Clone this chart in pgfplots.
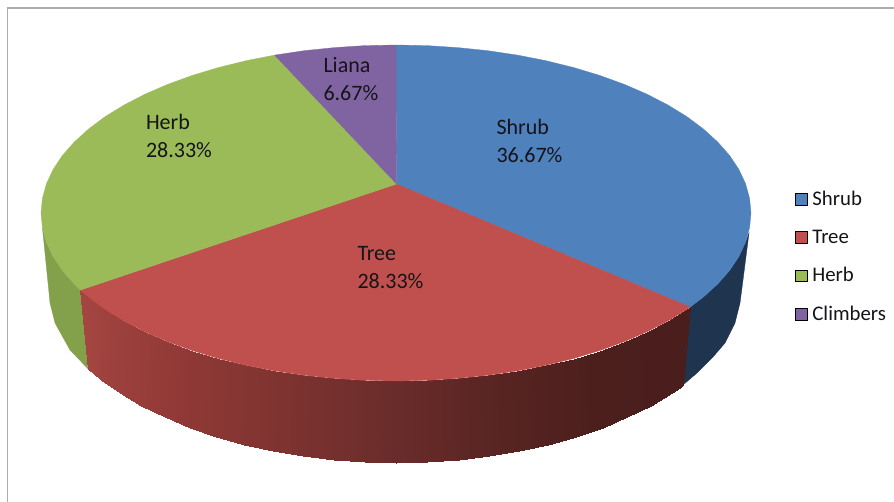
\documentclass[border=0pt]{standalone}
\usepackage{pgfplots}
\usepackage{fontspec}
\setmainfont{Carlito}
\pgfplotsset{compat=1.18}
\definecolor{cBlue}{RGB}{79,129,189}
\definecolor{cRed}{RGB}{192,80,77}
\definecolor{cGreen}{RGB}{155,187,89}
\definecolor{cPurple}{RGB}{128,100,162}
\definecolor{sBlue}{RGB}{31,52,79}
\definecolor{sGreen}{RGB}{131,161,74}
\definecolor{frameC}{RGB}{172,172,172}
\definecolor{txt}{RGB}{20,20,25}
\begin{document}
\begin{tikzpicture}
\begin{axis}[
  scale only axis, width=894bp, height=502bp,
  xmin=0, xmax=894, ymin=0, ymax=502, y dir=reverse,
  hide axis, clip=true,
  colormap={tree}{rgb255=(164,69,65) rgb255=(144,57,54) rgb255=(126,51,48) rgb255=(107,45,43) rgb255=(90,37,35) rgb255=(76,31,29) rgb255=(74,30,29)},
  point meta min=81, point meta max=690,
  legend style={at={(axis cs:795,191)}, anchor=north west, draw=none, fill=none,
    inner sep=0pt, outer sep=0pt, font=\fontsize{20.8bp}{24bp}\selectfont\color{txt},
    row sep=22.8bp, column sep=5bp, nodes={inner sep=0pt, outer sep=0pt}},
  legend cell align=left,
]
\path (axis cs:0,0) rectangle (axis cs:894,502);
% frame
\addplot[frameC, line width=1.3bp, forget plot] coordinates {(7.5,502) (7.5,8) (894,8)};
% side of shrub
\addplot[fill=sBlue, draw=sBlue, line width=0.3pt, forget plot] coordinates {
(690.3,307) (703.4,297) (717.7,284) (729.6,270.5) (738.9,256.5) (745.6,242.2) (749,233)
(743,280) (740,303) (735,323) (725,343) (713,357) (697,373) (683,385)} -- cycle;
% side of herb
\addplot[fill=sGreen, draw=sGreen, line width=0.3pt, forget plot] coordinates {
(80.5,290) (74.3,284) (62.4,270.5) (53.1,256.5) (46.4,242.2) (42.4,227.6)
(47,273) (50,303) (55,323) (70,350) (88,368.8)} -- cycle;
% side of tree (dark to the right)
\addplot[surf, shader=interp, mesh/rows=2, point meta=explicit, forget plot] table[x=x, y=y, meta=c] {
x y c
80.5 290 81
88.6 297 88
105.2 309.4 105
124.1 321 124
145 331.8 145
167.8 341.7 168
192.4 350.6 192
218.5 358.5 218
246 365.3 246
274.6 370.9 275
304.1 375.3 304
334.4 378.4 334
365 380.4 365
396 381 396
427 380.4 427
457.6 378.4 458
487.9 375.3 488
517.4 370.9 517
546 365.3 546
573.5 358.5 573
599.6 350.6 600
624.2 341.7 624
647 331.8 647
667.9 321 668
686.8 309.4 687
690.3 307 690
88 368.8 81
94.1 374.2 88
101.1 379.9 105
120.2 393.3 124
141.4 405.9 145
164.6 417.4 168
189.5 427.7 192
216 436.9 218
243.9 444.7 246
272.9 451.2 275
302.8 456.4 304
333.5 460 334
364.6 462.3 365
396 463 396
427.4 462.3 427
458.5 460 458
489.2 456.4 488
519.1 451.2 517
548.1 444.7 546
576 436.9 573
602.5 427.7 600
627.4 417.4 624
650.6 405.9 647
671.8 393.3 668
679.7 388 687
683 385 690
};
% top: shrub
\addplot[fill=cBlue, draw=cBlue, line width=0.3pt, forget plot] coordinates {
(396.5,184) (396,45) (427,45.6) (457.6,47.6) (487.9,50.7) (517.4,55.1) (546,60.7) (573.5,67.5)
(599.6,75.4) (624.2,84.3) (647,94.2) (667.9,105) (686.8,116.6) (703.4,129) (717.7,142)
(729.6,155.5) (738.9,169.5) (745.6,183.8) (749.6,198.4) (751,213) (749.6,227.6) (745.6,242.2)
(738.9,256.5) (729.6,270.5) (717.7,284) (703.4,297) (690.3,307)} -- cycle;
% top: tree
\addplot[fill=cRed, draw=cRed, line width=0.3pt, forget plot] coordinates {
(396.5,184) (690.3,307) (686.8,309.4) (667.9,321) (647,331.8) (624.2,341.7) (599.6,350.6)
(573.5,358.5) (546,365.3) (517.4,370.9) (487.9,375.3) (457.6,378.4) (427,380.4) (396,381)
(365,380.4) (334.4,378.4) (304.1,375.3) (274.6,370.9) (246,365.3) (218.5,358.5) (192.4,350.6)
(167.8,341.7) (145,331.8) (124.1,321) (105.2,309.4) (88.6,297) (80.5,290)} -- cycle;
% top: herb
\addplot[fill=cGreen, draw=cGreen, line width=0.3pt, forget plot] coordinates {
(396.5,184) (80.5,290) (74.3,284) (62.4,270.5) (53.1,256.5) (46.4,242.2) (42.4,227.6) (41,213)
(42.4,198.4) (46.4,183.8) (53.1,169.5) (62.4,155.5) (74.3,142) (88.6,129) (105.2,116.6)
(124.1,105) (145,94.2) (167.8,84.3) (192.4,75.4) (218.5,67.5) (246,60.7) (274.6,55.1)} -- cycle;
% top: liana
\addplot[fill=cPurple, draw=cPurple, line width=0.3pt, forget plot] coordinates {
(396.5,184) (274.6,55.1) (304.1,50.7) (334.4,47.6) (365,45.6) (396,45)} -- cycle;
% labels
\tikzset{lab/.style={anchor=west, inner sep=0pt, outer sep=0pt, text=txt, font=\fontsize{22bp}{28bp}\selectfont, align=left}}
\node[lab] at (axis cs:496.5,140.5) {Shrub\\36.67\%};
\node[lab] at (axis cs:357.5,268) {Tree\\28.33\%};
\node[lab] at (axis cs:146,135.5) {Herb\\28.33\%};
\node[lab] at (axis cs:323.5,79) {Liana\\6.67\%};
% legend
\pgfplotsset{legend image code/.code={\fill[#1] (0bp,-6bp) rectangle (12bp,5.5bp);}}
\addlegendimage{fill=cBlue}
\addlegendentry{Shrub}
\addlegendimage{fill=cRed}
\addlegendentry{Tree}
\addlegendimage{fill=cGreen}
\addlegendentry{Herb}
\addlegendimage{fill=cPurple}
\addlegendentry{Climbers}
\end{axis}
\end{tikzpicture}
\end{document}
